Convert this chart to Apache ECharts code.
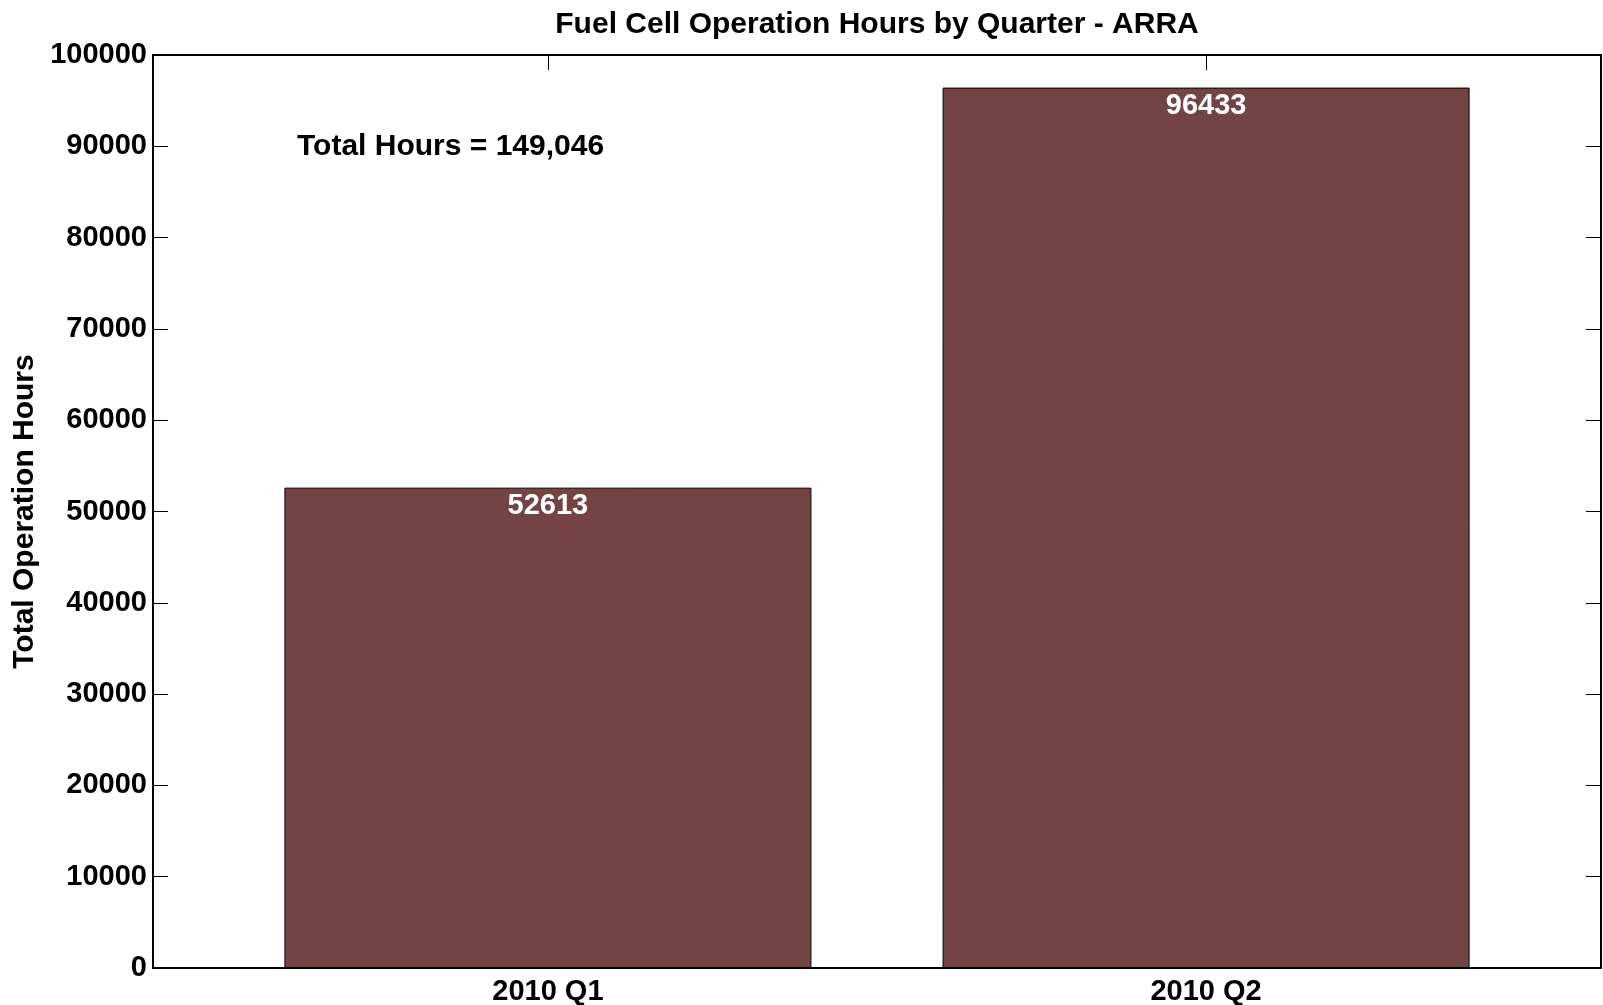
<!DOCTYPE html>
<html>
<head>
<meta charset="utf-8">
<script src="https://cdn.jsdelivr.net/npm/echarts@6/dist/echarts.min.js"></script>
<style>
  html, body { margin: 0; padding: 0; background: #fff; }
  #chart { width: 1603px; height: 1005px; }
</style>
</head>
<body>
<div id="chart"></div>
<script>
var categories = ['2010 Q1', '2010 Q2'];
var positions = [1, 2];
var hours = [52613, 96433];
var totalText = 'Total Hours = 149,046';

var font = "'Liberation Sans', Arial, Helvetica, sans-serif";

(function() {
    drawChart();
})();

function drawChart() {
    var chart = echarts.init(document.getElementById('chart'));

    var barData = [];
    for (var i = 0; i < hours.length; i++) {
        barData.push([positions[i], hours[i]]);
    }

    var tickStyle = { show: true, inside: true, length: 15, lineStyle: { color: '#000', width: 1 } };

    var option = {
        animation: false,
        backgroundColor: '#fff',
        title: {
            text: 'Fuel Cell Operation Hours by Quarter - ARRA',
            left: 872,
            top: 5,
            textAlign: 'center',
            textStyle: { fontFamily: font, fontWeight: 'bold', fontSize: 30, color: '#000' }
        },
        grid: {
            left: 153,
            right: 2,
            top: 55,
            bottom: 37,
            outerBoundsMode: 'none'
        },
        xAxis: [
            {
                type: 'value',
                min: 0.4,
                max: 2.6,
                position: 'bottom',
                splitLine: { show: false },
                axisLine: { show: true, onZero: false, lineStyle: { color: '#000', width: 2 } },
                axisTick: Object.assign({ customValues: positions }, tickStyle),
                axisLabel: {
                    customValues: positions,
                    margin: 9,
                    fontFamily: font,
                    fontWeight: 'bold',
                    fontSize: 29,
                    color: '#000',
                    formatter: function(v) {
                        return categories[Math.round(v) - 1];
                    }
                }
            },
            {
                type: 'value',
                min: 0.4,
                max: 2.6,
                position: 'top',
                splitLine: { show: false },
                axisLine: { show: true, onZero: false, lineStyle: { color: '#000', width: 2 } },
                axisTick: Object.assign({ customValues: positions }, tickStyle),
                axisLabel: { show: false }
            }
        ],
        yAxis: [
            {
                type: 'value',
                min: 0,
                max: 100000,
                interval: 10000,
                position: 'left',
                name: 'Total Operation Hours',
                nameLocation: 'middle',
                nameGap: 112,
                nameTextStyle: { fontFamily: font, fontWeight: 'bold', fontSize: 30, color: '#000' },
                splitLine: { show: false },
                axisLine: { show: true, lineStyle: { color: '#000', width: 2 } },
                axisTick: tickStyle,
                axisLabel: {
                    margin: 6,
                    fontFamily: font,
                    fontWeight: 'bold',
                    fontSize: 29,
                    color: '#000',
                    formatter: function(v) {
                        return String(v);
                    }
                }
            },
            {
                type: 'value',
                min: 0,
                max: 100000,
                interval: 10000,
                position: 'right',
                splitLine: { show: false },
                axisLine: { show: true, lineStyle: { color: '#000', width: 2 } },
                axisTick: tickStyle,
                axisLabel: { show: false }
            }
        ],
        graphic: [
            {
                type: 'text',
                left: 297,
                top: 132,
                style: {
                    text: totalText,
                    fontFamily: font,
                    fontWeight: 'bold',
                    fontSize: 30,
                    fill: '#000'
                }
            }
        ],
        series: [
            {
                name: 'Total Operation Hours',
                type: 'bar',
                xAxisIndex: 0,
                yAxisIndex: 0,
                barWidth: 527,
                data: barData,
                itemStyle: {
                    color: '#744444',
                    borderColor: '#000',
                    borderWidth: 1
                },
                label: {
                    show: true,
                    position: 'insideTop',
                    distance: 4,
                    fontFamily: font,
                    fontWeight: 'bold',
                    fontSize: 29,
                    color: '#fff',
                    formatter: function(p) {
                        return p.data[1];
                    }
                }
            }
        ]
    };

    chart.setOption(option);
}
</script>
</body>
</html>
